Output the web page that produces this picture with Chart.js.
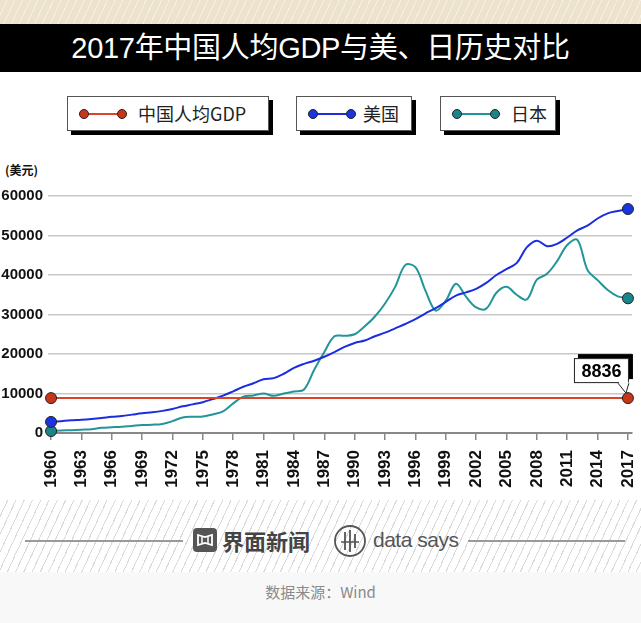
<!DOCTYPE html>
<html><head><meta charset="utf-8">
<script src="https://cdn.jsdelivr.net/npm/chart.js@4/dist/chart.umd.min.js"></script>
<style>
html,body{margin:0;padding:0;}
body{width:641px;height:623px;position:relative;background:#fff;overflow:hidden;font-family:"Liberation Sans","Noto Sans CJK SC",sans-serif;}
#topband{position:absolute;left:0;top:0;width:641px;height:24px;background:#ede3cc;
 background-image:repeating-linear-gradient(115deg, rgba(255,255,255,0) 0 6px, rgba(255,255,255,0.45) 6px 7px);}
#title{position:absolute;left:0;top:24px;width:641px;height:48px;background:#000;color:#fff;text-align:center;line-height:48px;font-size:29px;font-family:"Liberation Sans","Noto Sans CJK SC",sans-serif;letter-spacing:-0.3px;}
.lg{position:absolute;top:96px;height:35px;background:#fff;border:1px solid #555;box-shadow:4px 4px 0 #000;box-sizing:border-box;font-family:"Noto Sans CJK SC",sans-serif;font-size:18px;color:#222;}
.lg svg{position:absolute;left:10px;top:9px;}
.lg span{position:absolute;top:4px;line-height:24px;}
#yt{position:absolute;left:5px;top:161px;font-size:12px;font-weight:bold;font-family:"Noto Sans CJK SC",sans-serif;color:#111;}
#wrap{position:absolute;left:0;top:150px;width:641px;height:350px;}
#hatch{position:absolute;left:0;top:500px;width:641px;height:72px;background:#fff;
 background-image:repeating-linear-gradient(115deg, rgba(0,0,0,0) 0 6.5px, #dadada 6.5px 7.5px);}
#bottom{position:absolute;left:0;top:572px;width:641px;height:51px;background:#f8f8f8;}
#src{position:absolute;left:0;top:581px;width:641px;text-align:center;font-size:15px;color:#8a8a8a;font-family:"Noto Sans CJK SC",sans-serif;}
.hl{position:absolute;top:540px;height:2px;background:#9a9a9a;}
#logo1{position:absolute;left:193px;top:528px;}
#logo1t{position:absolute;left:222px;top:524px;font-size:22px;font-weight:bold;color:#444;font-family:"Noto Sans CJK SC",sans-serif;line-height:32px;}
#logo2{position:absolute;left:333px;top:524px;}
#logo2t{position:absolute;left:373px;top:525px;font-size:21px;color:#555;font-family:"Liberation Sans",sans-serif;line-height:30px;letter-spacing:-0.5px;}
</style></head>
<body>
<div id="topband"></div>
<div id="title">2017年中国人均GDP与美、日历史对比</div>

<div class="lg" style="left:67px;width:202px;">
 <svg width="50" height="16"><line x1="6" y1="8" x2="44" y2="8" stroke="#d9442a" stroke-width="2"/><circle cx="6" cy="8" r="4.5" fill="#c8361a" stroke="#222" stroke-width="1"/><circle cx="44" cy="8" r="4.5" fill="#c8361a" stroke="#222" stroke-width="1"/></svg>
 <span style="left:70px;">中国人均GDP</span></div>
<div class="lg" style="left:296px;width:116px;">
 <svg width="50" height="16"><line x1="6" y1="8" x2="44" y2="8" stroke="#1a2ee0" stroke-width="2"/><circle cx="6" cy="8" r="4.5" fill="#1a35e0" stroke="#222" stroke-width="1"/><circle cx="44" cy="8" r="4.5" fill="#1a35e0" stroke="#222" stroke-width="1"/></svg>
 <span style="left:66px;">美国</span></div>
<div class="lg" style="left:440px;width:116px;">
 <svg width="50" height="16"><line x1="6" y1="8" x2="44" y2="8" stroke="#22959a" stroke-width="2"/><circle cx="6" cy="8" r="4.5" fill="#1a8589" stroke="#222" stroke-width="1"/><circle cx="44" cy="8" r="4.5" fill="#1a8589" stroke="#222" stroke-width="1"/></svg>
 <span style="left:70px;">日本</span></div>

<div id="yt">(美元)</div>
<div id="wrap"><canvas id="c" width="641" height="350"></canvas></div>

<div id="hatch"></div>
<div id="bottom"></div>
<div class="hl" style="left:25px;width:158px;"></div>
<div class="hl" style="left:468px;width:157px;"></div>
<svg id="logo1" width="24" height="24"><rect x="0" y="0" width="24" height="24" rx="4" fill="#555"/><path d="M5 7 L12 9 L19 7 L19 17 L12 15 L5 17 Z" fill="none" stroke="#fff" stroke-width="1.8"/><line x1="9" y1="9" x2="9" y2="15" stroke="#fff" stroke-width="1.5"/><line x1="15" y1="9" x2="15" y2="15" stroke="#fff" stroke-width="1.5"/></svg>
<div id="logo1t">界面新闻</div>
<svg id="logo2" width="34" height="34"><circle cx="17" cy="17" r="15" fill="none" stroke="#555" stroke-width="1.8"/><line x1="12" y1="8" x2="12" y2="26" stroke="#555" stroke-width="1.8"/><line x1="17" y1="6" x2="17" y2="28" stroke="#555" stroke-width="1.8"/><line x1="22" y1="10" x2="22" y2="24" stroke="#555" stroke-width="1.8"/><line x1="8" y1="18" x2="26" y2="18" stroke="#555" stroke-width="1.5"/></svg>
<div id="logo2t">data says</div>
<div id="src">数据来源：Wind</div>

<script>
const years = [];
for (let y = 1960; y <= 2017; y++) years.push(y);

const chinaValue = 8836;
const chinaGDP = years.map(() => chinaValue);

const usGDP = [
 2800, 3000, 3200, 3350, 3550, 3800, 4100, 4300, 4650, 5000,
 5250, 5600, 6100, 6750, 7250, 7800, 8600, 9450, 10550, 11700,
 12600, 13600, 13900, 15000, 16500, 17500, 18300, 19300, 20500, 21800,
 22800, 23400, 24500, 25400, 26500, 27600, 28800, 30300, 31600, 33200,
 34800, 35600, 36500, 38000, 40000, 41500, 43000, 47000, 48700, 47300,
 47900, 49500, 51300, 52500, 54300, 55600, 56200, 56700
];

const japanGDP = [
 500, 620, 720, 850, 980, 1300, 1450, 1600, 1800, 2000,
 2100, 2300, 3000, 3950, 4100, 4150, 4700, 5500, 7500, 9200,
 9500, 10000, 9400, 10000, 10500, 11000, 16000, 20500, 24500, 24600,
 25000, 27000, 29500, 32800, 37000, 42500, 42000, 36000, 31000, 33500,
 37800, 34500, 31800, 31500, 35500, 37000, 35000, 33800, 38800, 40300,
 43500, 47600, 48900, 41300, 38700, 36200, 34600, 34100
];

const yTicks = [0, 10000, 20000, 30000, 40000, 50000, 60000];
const xTickYears = years.filter(y => (y - 1960) % 3 === 0);

const seriesNames = ['中国人均GDP', '美国', '日本'];

function pts(arr){ return years.map((y,i)=>({x:y, y:arr[i]})); }
function endRadius(ctx){ const n = ctx.dataset.data.length; return (ctx.dataIndex===0 || ctx.dataIndex===n-1) ? 5.5 : 0; }

const labelPlugin = {
 id:'lastLabel',
 afterDatasetsDraw(chart){
  const meta = chart.getDatasetMeta(0);
  const p = meta.data[meta.data.length-1];
  const ctx = chart.ctx;
  const px = p.x, py = p.y;
  const L = px-54, R = px+1, T = py-40, B = py-15;
  ctx.save();
  ctx.fillStyle = '#000';
  ctx.fillRect(L+4, T-4, R-L, B-T);
  ctx.beginPath();
  ctx.moveTo(px-10, B-1); ctx.lineTo(px-2, py-5); ctx.lineTo(px+1, B-1);
  ctx.closePath(); ctx.fillStyle='#fff'; ctx.fill();
  ctx.strokeStyle='#222'; ctx.lineWidth=1;
  ctx.beginPath(); ctx.moveTo(px-10, B); ctx.lineTo(px-2, py-5); ctx.lineTo(px+1, B); ctx.stroke();
  ctx.fillStyle='#fff';
  ctx.fillRect(L, T, R-L, B-T);
  ctx.strokeRect(L+0.5, T+0.5, R-L-1, B-T-1);
  ctx.fillStyle='#fff'; ctx.fillRect(px-9, B-1.5, 9.5, 2);
  ctx.fillStyle='#000';
  ctx.font='bold 18px "Liberation Sans Narrow", sans-serif';
  ctx.textAlign='center'; ctx.textBaseline='middle';
  ctx.fillText(String(chart.data.datasets[0].data[meta.data.length-1].y), (L+R)/2, (T+B)/2+1);
  ctx.restore();
 }
};

new Chart(document.getElementById('c'), {
 type:'line',
 data:{ datasets:[
  {label:seriesNames[0], data:pts(chinaGDP), borderColor:'#d9442a', backgroundColor:'#c8361a', borderWidth:2,
   pointRadius:endRadius, pointBackgroundColor:'#c8361a', pointBorderColor:'#222', pointBorderWidth:1, tension:0, clip:false},
  {label:seriesNames[1], data:pts(usGDP), borderColor:'#1a2ee0', backgroundColor:'#1a35e0', borderWidth:2,
   pointRadius:endRadius, pointBackgroundColor:'#1a35e0', pointBorderColor:'#222', pointBorderWidth:1, tension:0.35, clip:false},
  {label:seriesNames[2], data:pts(japanGDP), borderColor:'#22959a', backgroundColor:'#1a8589', borderWidth:2,
   pointRadius:endRadius, pointBackgroundColor:'#1a8589', pointBorderColor:'#222', pointBorderWidth:1, tension:0.35, clip:false}
 ]},
 options:{
  responsive:false, animation:false, devicePixelRatio:1,
  layout:{padding:{top:46,right:9,left:0,bottom:0}},
  plugins:{legend:{display:false}, tooltip:{enabled:false}},
  scales:{
   x:{type:'linear', min:1959.7, max:2017.4,
      afterBuildTicks(s){ s.ticks = xTickYears.map(v=>({value:v})); },
      afterFit(s){ s.height = 67; s.paddingLeft = 0; s.paddingRight = 0; },
      grid:{drawOnChartArea:false, drawTicks:true, tickLength:7, color:'#888', lineWidth:1.5},
      border:{display:true, color:'#888', width:2},
      ticks:{minRotation:90, maxRotation:90, autoSkip:false, padding:10, color:'#111',
        font:{family:'"Liberation Sans Narrow", sans-serif', size:17, weight:'bold'},
        callback:(v)=>String(v)}},
   y:{min:0, max:60000,
      afterBuildTicks(s){ s.ticks = yTicks.map(v=>({value:v})); },
      afterFit(s){ s.width = 48; s.paddingTop = 0; s.paddingBottom = 0; },
      grid:{drawTicks:false, color:'#c8c8c8', lineWidth:1.5},
      border:{display:false},
      ticks:{padding:5, color:'#111',
        font:{family:'"Liberation Sans Narrow", sans-serif', size:15, weight:'bold'},
        callback:(v)=>String(v)}}
  }
 },
 plugins:[labelPlugin]
});
</script>
</body></html>
